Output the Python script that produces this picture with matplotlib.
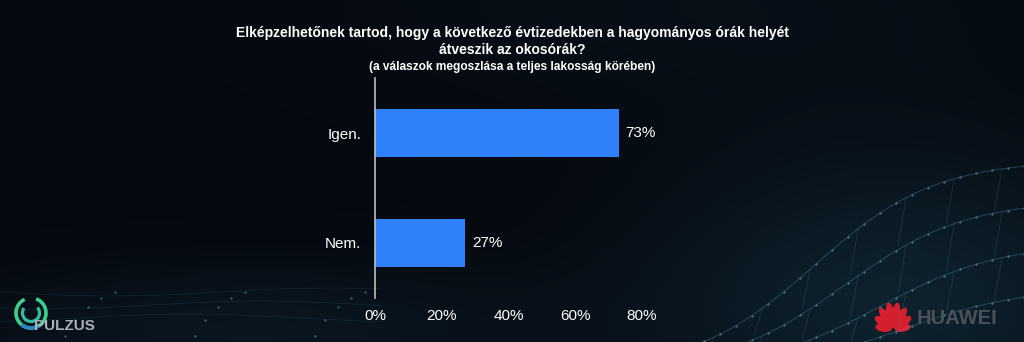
import numpy as np
import matplotlib.pyplot as plt
from matplotlib.patches import Ellipse, Arc
from matplotlib.colors import LinearSegmentedColormap

plt.rcParams["font.family"] = ["Liberation Sans", "DejaVu Sans"]

categories = ["Igen.", "Nem."]
values = [73, 27]
xticks = [0, 20, 40, 60, 80]
title = ("Elképzelhetőnek tartod, hogy a következő évtizedekben a hagyományos órák helyét\n"
         "átveszik az okosórák?")
subtitle = "(a válaszok megoszlása a teljes lakosság körében)"

BAR = "#2f80fb"
BG = "#05080f"

fig = plt.figure(figsize=(10.24, 3.42), dpi=100)
fig.patch.set_facecolor(BG)

# background layer in pixel coordinates
bg = fig.add_axes([0, 0, 1, 1])
bg.set_xlim(0, 1024)
bg.set_ylim(342, 0)
bg.axis("off")
yy, xx = np.mgrid[0:342, 0:1024]
glow = 0.9 * np.exp(-(((xx - 900) / 260.0) ** 2 + ((yy - 300) / 150.0) ** 2))
glow += 0.5 * np.exp(-(((xx - 250) / 300.0) ** 2 + ((yy - 330) / 70.0) ** 2))
glow += 0.25 * np.exp(-(((xx - 700) / 400.0) ** 2 + ((yy - 0) / 120.0) ** 2))
cmap = LinearSegmentedColormap.from_list("bgc", [BG, "#0f2633"])
bg.imshow(glow, cmap=cmap, extent=(0, 1024, 342, 0), vmin=0, vmax=1.1, aspect="auto")

# rising wave bundle, lower right
LINE = "#4f9fb5"
DOT = "#7cc7d6"
xs = np.linspace(560, 1024, 320)
ends = [160, 200, 243, 287]
mids = [815, 845, 880, 905]
curves = []
for yend, xm in zip(ends, mids):
    ys = yend + (370 - yend) / (1 + np.exp((xs - xm) / 60.0))
    curves.append(ys)
    bg.plot(xs, ys, color=LINE, lw=0.7, alpha=0.35)
    idx = np.arange(0, len(xs), 11)
    bg.scatter(xs[idx], ys[idx], s=3, color=DOT, alpha=0.45, lw=0)
for i in range(len(curves) - 1):
    for j in range(40, len(xs), 33):
        bg.plot([xs[j], xs[j] - 8], [curves[i][j], curves[i + 1][j]],
                color=LINE, lw=0.5, alpha=0.25)

# faint globe-like mesh, lower left
xl = np.linspace(0, 380, 200)
for k, base in enumerate([292, 305, 318]):
    ys = base + 4 * np.sin(xl / 70.0 + k)
    bg.plot(xl, ys, color=LINE, lw=0.5, alpha=0.15)
for cxa in [70, 200, 320]:
    bg.add_patch(Arc((cxa + 60, 420), 170, 260, theta1=95, theta2=175,
                     color=LINE, lw=0.7, alpha=0.3))
    th = np.deg2rad(np.linspace(100, 170, 8))
    bg.scatter(cxa + 60 + 85 * np.cos(th), 420 - 130 * np.sin(th), s=3,
               color=DOT, alpha=0.4, lw=0)

# PULZUS logo
bg.add_patch(Arc((31, 313), 30, 30, theta1=-70, theta2=245, color="#3ccf8e", lw=2.6))
bg.add_patch(Arc((31, 313), 30, 30, theta1=60, theta2=130, color="#2a84c8", lw=2.6))
bg.add_patch(Arc((31, 313), 17, 17, theta1=-40, theta2=215, color="#2fbfa0", lw=2.3))
bg.text(34, 326, "PULZUS", color="#a9b0b8", fontsize=11, fontweight="bold",
        va="center", ha="left")

# HUAWEI logo: red petal fan, outer petals shorter
cx, cy = 893, 329
for ang, length in zip([-82, -56, -32, -10, 10, 32, 56, 82],
                       [15, 19, 22, 24, 24, 22, 19, 15]):
    r = np.deg2rad(ang)
    d = length / 2 + 2
    ex = cx + d * np.sin(r)
    ey = cy - d * np.cos(r)
    bg.add_patch(Ellipse((ex, ey), 7, length, angle=ang, color="#d41f2d"))
bg.text(917, 318, "HUAWEI", color="#4b5158", fontsize=14.5, fontweight="bold",
        va="center", ha="left")

# titles
fig.text(0.5, 1 - 26 / 342, title, ha="center", va="top", color="white",
         fontsize=10, fontweight="bold", linespacing=1.25)
fig.text(0.5, 1 - 67 / 342, subtitle, ha="center", va="center", color="white",
         fontsize=8.6, fontweight="bold")

# chart
ax = fig.add_axes([375 / 1024, 1 - 298 / 342, 267 / 1024, 220 / 342])
ax.patch.set_alpha(0)
ypos = np.arange(len(categories))
ax.barh(ypos, values, height=0.43, color=BAR)
for y, v in zip(ypos, values):
    ax.text(v + 2, y, f"{v}%", va="center", ha="left", color="white", fontsize=11)
ax.set_xlim(0, 80)
ax.set_ylim(len(categories) - 0.5, -0.5)
ax.set_yticks(ypos)
ax.set_yticklabels(categories, color="white", fontsize=11)
ax.set_xticks(xticks)
ax.set_xticklabels([f"{t}%" for t in xticks], color="white", fontsize=11)
ax.tick_params(axis="x", length=0, pad=8)
ax.tick_params(axis="y", length=0, pad=10)
for s in ["top", "right", "bottom"]:
    ax.spines[s].set_visible(False)
ax.spines["left"].set_color("#bfbfbf")
ax.spines["left"].set_linewidth(1.2)

fig.savefig("out.png", dpi=100, facecolor=fig.get_facecolor())
